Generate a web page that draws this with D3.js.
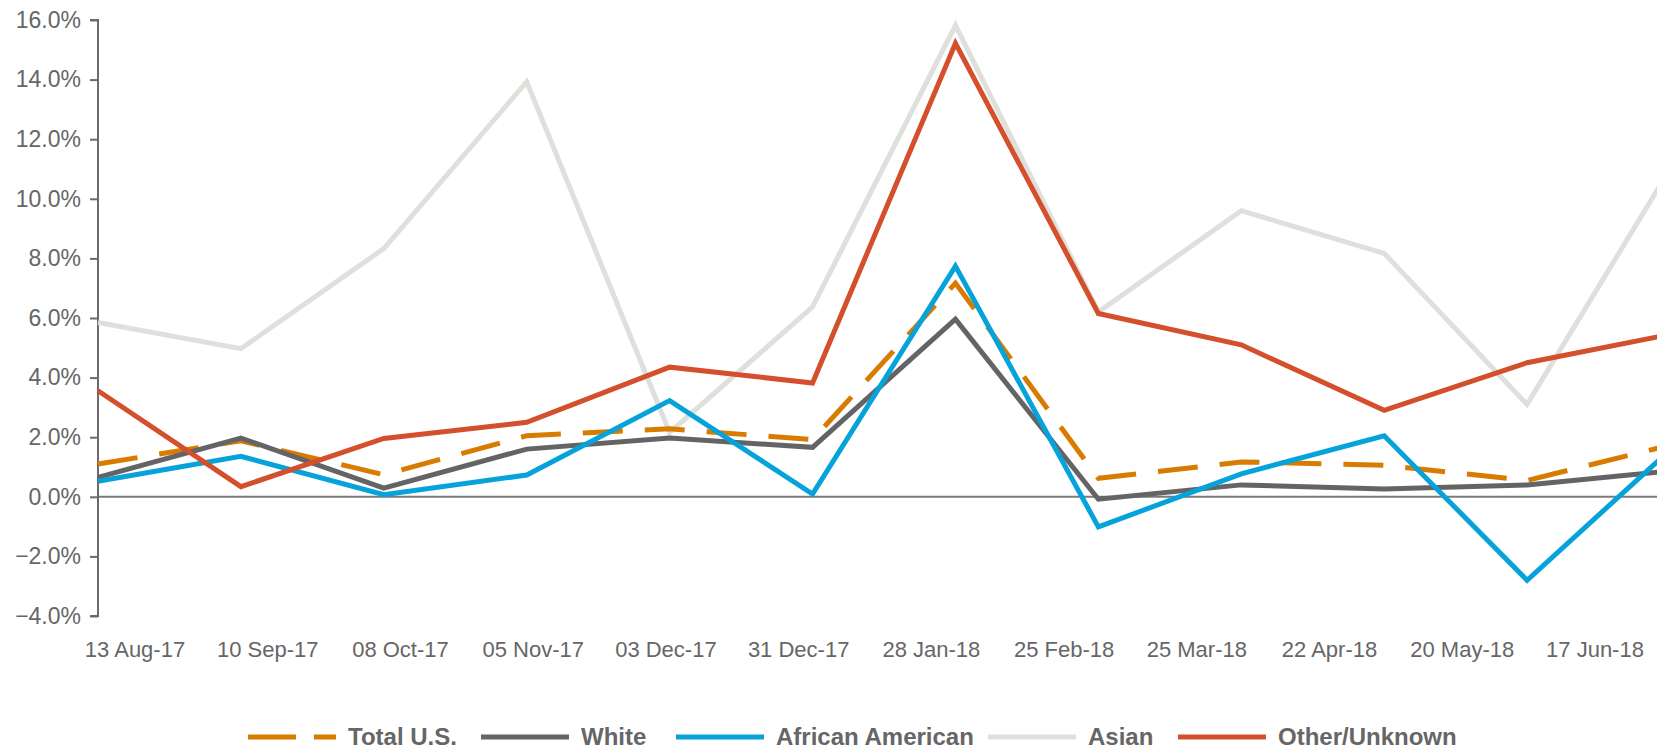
<!DOCTYPE html>
<html>
<head>
<meta charset="utf-8">
<script src="https://cdn.jsdelivr.net/npm/d3@7/dist/d3.min.js"></script>
<style>
  html, body { margin: 0; padding: 0; background: #ffffff; }
  svg { display: block; }
  text { font-family: "Liberation Sans", Arial, Helvetica, sans-serif; }
</style>
</head>
<body>
<svg id="chart" width="1657" height="749"></svg>
<script>
// Period labels shown along the horizontal axis
const periodLabels = ["13 Aug-17", "10 Sep-17", "08 Oct-17", "05 Nov-17", "03 Dec-17", "31 Dec-17",
                      "28 Jan-18", "25 Feb-18", "25 Mar-18", "22 Apr-18", "20 May-18", "17 Jun-18"];

// Percentage change by group, one value per period
const totalUS       = [1.10, 1.88, 0.74, 2.05, 2.28, 1.92, 7.17, 0.62, 1.17, 1.06, 0.55, 1.73];
const white         = [0.65, 1.97, 0.29, 1.60, 1.97, 1.66, 5.96, -0.08, 0.40, 0.26, 0.40, 0.87];
const africanAm     = [0.52, 1.36, 0.07, 0.73, 3.23, 0.09, 7.74, -1.01, 0.77, 2.05, -2.80, 1.57];
const asian         = [5.85, 4.97, 8.33, 13.93, 2.16, 6.37, 15.82, 6.20, 9.60, 8.17, 3.10, 11.00];
const otherUnknown  = [3.56, 0.34, 1.96, 2.50, 4.35, 3.82, 15.22, 6.15, 5.10, 2.90, 4.50, 5.45];

// Y axis ticks
const yTicks = [-4, -2, 0, 2, 4, 6, 8, 10, 12, 14, 16];

// Series in drawing order (bottom to top) with their styling
const series = [
  { name: "Asian",            values: asian,        color: "#dfdfdb", dash: null },
  { name: "Total U.S.",       values: totalUS,      color: "#d97b00", dash: "40,22" },
  { name: "White",            values: white,        color: "#646466", dash: null },
  { name: "African American", values: africanAm,    color: "#06a3da", dash: null },
  { name: "Other/Unknown",    values: otherUnknown, color: "#d44f2c", dash: null }
];
const legendOrder = ["Total U.S.", "White", "African American", "Asian", "Other/Unknown"];

const W = 1657, H = 749;
const svg = d3.select("#chart");

const plot = { left: 98, right: 1657, top: 20, bottom: 616 };

// Data points are spaced evenly; the last period runs past the right edge
const x = d3.scaleLinear().domain([0, periodLabels.length - 1]).range([plot.left, 1670]);
const y = d3.scaleLinear().domain([-4, 16]).range([plot.bottom, plot.top]);

// Category labels along the bottom
const xLab = d3.scalePoint().domain(periodLabels).range([135, 1595]);

svg.append("defs").append("clipPath").attr("id", "plotClip")
  .append("rect").attr("x", 0).attr("y", 0).attr("width", W).attr("height", plot.bottom + 10);

// Zero baseline
svg.append("line")
  .attr("x1", plot.left).attr("x2", W)
  .attr("y1", y(0)).attr("y2", y(0))
  .attr("stroke", "#7b7b7b").attr("stroke-width", 2);

// Left axis
const yAxis = d3.axisLeft(y)
  .tickValues(yTicks)
  .tickSize(8)
  .tickPadding(9)
  .tickFormat(d => d3.format(".1f")(d) + "%");

const gy = svg.append("g").attr("transform", `translate(${plot.left},0)`).call(yAxis);
gy.select(".domain").attr("stroke", "#6b6b6b").attr("stroke-width", 2)
  .attr("d", `M-8,${y(16)}H0V${y(-4)}H-8`);
gy.selectAll(".tick line").attr("stroke", "#6b6b6b").attr("stroke-width", 2);
gy.selectAll(".tick text")
  .attr("fill", "#666666")
  .style("font-size", "23px");

// Bottom period labels
svg.append("g").selectAll("text")
  .data(periodLabels)
  .join("text")
  .attr("x", d => xLab(d))
  .attr("y", 657)
  .attr("text-anchor", "middle")
  .attr("fill", "#666666")
  .style("font-size", "22px")
  .text(d => d);

// Series lines
const line = d3.line()
  .x((d, i) => x(i))
  .y(d => y(d));

const gLines = svg.append("g").attr("clip-path", "url(#plotClip)");
gLines.selectAll("path")
  .data(series)
  .join("path")
  .attr("fill", "none")
  .attr("stroke", d => d.color)
  .attr("stroke-width", 5)
  .attr("stroke-linejoin", "miter")
  .attr("stroke-dasharray", d => d.dash)
  .attr("d", d => line(d.values));

// Legend
const legendItems = legendOrder.map(n => series.find(s => s.name === n));
const legendX = [248, 481, 676, 988, 1178];
const legendY = 737;
const lg = svg.append("g").selectAll("g")
  .data(legendItems)
  .join("g")
  .attr("transform", (d, i) => `translate(${legendX[i]},${legendY})`);
lg.append("line")
  .attr("x1", 0).attr("x2", 88)
  .attr("y1", 0).attr("y2", 0)
  .attr("stroke", d => d.color)
  .attr("stroke-width", 5)
  .attr("stroke-dasharray", d => d.dash ? "48,18" : null);
lg.append("text")
  .attr("x", 100)
  .attr("y", 0)
  .attr("dy", "0.35em")
  .attr("fill", "#666666")
  .style("font-size", "24px")
  .style("font-weight", "bold")
  .text(d => d.name);
</script>
</body>
</html>
